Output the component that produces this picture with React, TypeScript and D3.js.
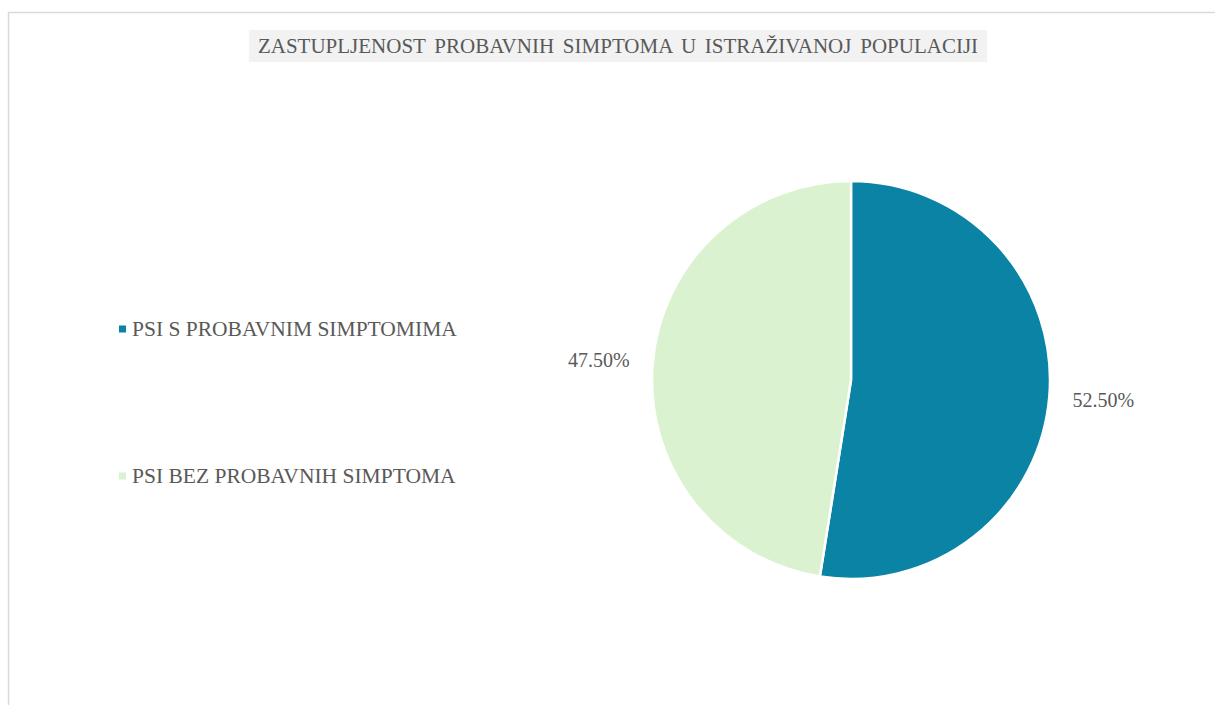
import { useEffect, useRef } from "react";
import * as d3 from "d3";

const categories = ["PSI S PROBAVNIM SIMPTOMIMA", "PSI BEZ PROBAVNIH SIMPTOMA"];
const shares = [52.5, 47.5];
const colors = ["#0B83A5", "#DAF2D0"];
const title = "ZASTUPLJENOST PROBAVNIH SIMPTOMA U ISTRAŽIVANOJ POPULACIJI";

const W = 1215;
const H = 705;
const FONT = "'Liberation Serif', 'Times New Roman', serif";
const TEXT = "#595959";

export default function App() {
  const svgRef = useRef<SVGSVGElement>(null);

  useEffect(() => {
    if (!svgRef.current) return;
    const svg = d3.select(svgRef.current);
    svg.selectAll("*").remove();

    // chart frame, clipped by the window on the right and bottom
    svg.append("rect").attr("x", 8.5).attr("y", 12.5).attr("width", 1300).attr("height", 800)
      .attr("fill", "#fff").attr("stroke", "#d9d9d9").attr("stroke-width", 1.5);

    // title with grey band
    const tx = 618, ty = 46;
    const t = svg.append("text").attr("x", tx).attr("y", ty).attr("text-anchor", "middle")
      .attr("dominant-baseline", "central").attr("font-family", FONT).attr("font-size", 21)
      .attr("fill", TEXT).attr("word-spacing", 3.5).text(title);
    const bb = (t.node() as SVGTextElement).getBBox();
    svg.insert("rect", "text").attr("x", bb.x - 9).attr("y", 30).attr("width", bb.width + 18).attr("height", 32)
      .attr("fill", "#f2f2f2");

    // pie
    const cx = 851, cy = 380, r = 199;
    const pie = d3.pie<number>().sort(null).value((d) => d);
    const arcs = pie(shares);
    const arc = d3.arc<d3.PieArcDatum<number>>().innerRadius(0).outerRadius(r);
    const labelArc = d3.arc<d3.PieArcDatum<number>>().innerRadius(253).outerRadius(253);
    const g = svg.append("g").attr("transform", `translate(${cx},${cy})`);
    g.selectAll("path").data(arcs).join("path")
      .attr("d", arc).attr("fill", (_, i) => colors[i]).attr("stroke", "#fff").attr("stroke-width", 2.5)
      .attr("stroke-linejoin", "round");
    g.selectAll("text").data(arcs).join("text")
      .attr("transform", (d) => {
        const [x, y] = labelArc.centroid(d);
        return `translate(${x},${y})`;
      })
      .attr("text-anchor", "middle").attr("dominant-baseline", "central")
      .attr("font-family", FONT).attr("font-size", 20).attr("fill", TEXT)
      .text((d) => `${d.data.toFixed(2)}%`);

    // legend
    const ly = d3.scalePoint<string>().domain(categories).range([329, 476]);
    const lg = svg.append("g");
    categories.forEach((c, i) => {
      const y = ly(c)!;
      lg.append("rect").attr("x", 119).attr("y", y - 3.5).attr("width", 7).attr("height", 7).attr("fill", colors[i]);
      lg.append("text").attr("x", 132).attr("y", y).attr("dominant-baseline", "central")
        .attr("font-family", FONT).attr("font-size", 21.5).attr("fill", TEXT).text(c);
    });
  }, []);

  return (
    <svg ref={svgRef} width={W} height={H}
      style={{ position: "absolute", left: 0, top: 0, display: "block", background: "#fff" }} />
  );
}
